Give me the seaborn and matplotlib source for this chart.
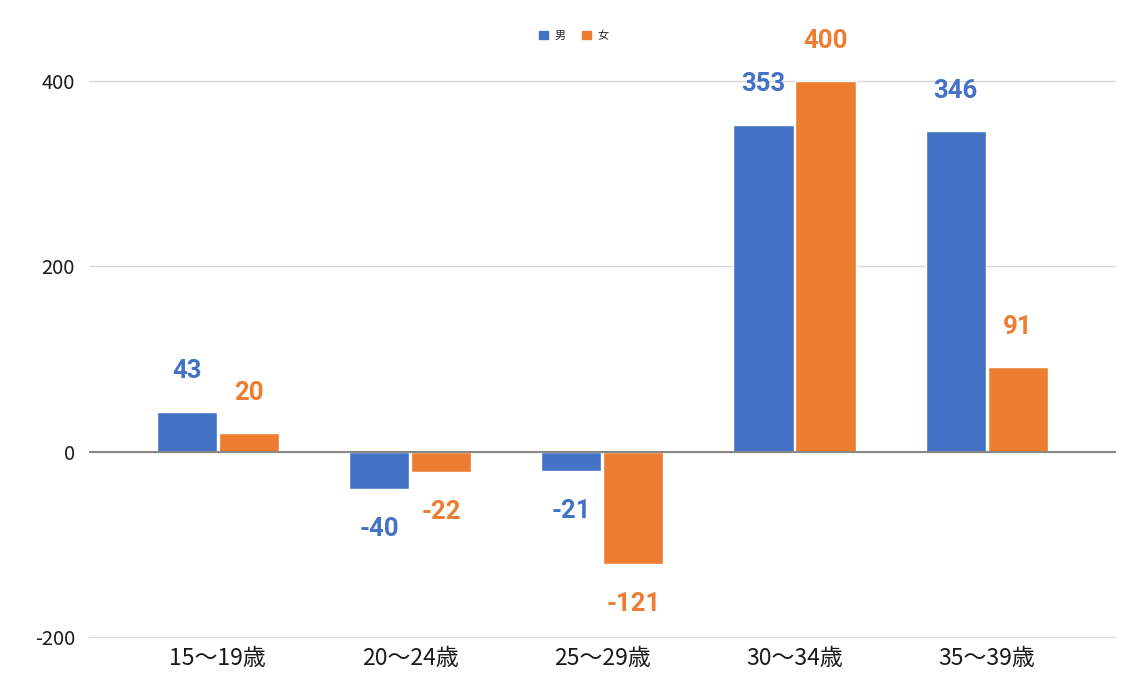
import pandas as pd
import seaborn as sns
import matplotlib.pyplot as plt

# データ
ages = ['15〜19歳', '20〜24歳', '25〜29歳', '30〜34歳', '35〜39歳']
male = [43, -40, -21, 353, 346]
female = [20, -22, -121, 400, 91]
sexes = ['男', '女']
colors = ['#4472C4', '#ED7D31']

df = pd.DataFrame({
    'age': ages * 2,
    'value': male + female,
    'sex': [sexes[0]] * len(ages) + [sexes[1]] * len(ages),
})

sns.set_style('white')
plt.rcParams['font.family'] = ['Noto Sans CJK JP', 'DejaVu Sans']
plt.rcParams['axes.unicode_minus'] = False

fig = plt.figure(figsize=(11.36, 6.91), dpi=100)
ax = fig.add_axes([0.0783, 0.076, 0.9037, 0.86])

sns.barplot(data=df, x='age', y='value', hue='sex', palette=colors,
            width=0.645, gap=0.03, ax=ax, legend=False, saturation=1)

ax.set_xlim(-0.67, 4.67)
ax.set_ylim(-202, 440)
ax.set_yticks([-200, 0, 200, 400])
ax.yaxis.grid(True, color='#d9d9d9', lw=1)
ax.set_axisbelow(True)
ax.axhline(0, color='#888888', lw=1.5, zorder=3)
for s in ax.spines.values():
    s.set_visible(False)
ax.set_xlabel('')
ax.set_ylabel('')
ax.tick_params(axis='both', length=0, colors='#1a1a1a', pad=10)
ax.tick_params(axis='x', labelsize=16.5, pad=6)
ax.tick_params(axis='y', labelsize=14.5)

# 数値ラベル
for cont, col in zip(ax.containers, colors):
    for bar in cont:
        h = bar.get_height()
        off = 29 if h >= 0 else -29
        ax.annotate(f'{int(round(h))}', (bar.get_x() + bar.get_width() / 2, h),
                    xytext=(0, off), textcoords='offset points',
                    ha='center', va='center', fontsize=18.5, fontweight='bold',
                    color=col, family=['Roboto', 'DejaVu Sans'], annotation_clip=False)

# 凡例
handles = [plt.Rectangle((0, 0), 1, 1, color=c) for c in colors]
fig.legend(handles, sexes, loc='center', bbox_to_anchor=(0.505, 0.948), ncol=2,
           frameon=False, fontsize=8, handlelength=0.8, handleheight=0.8,
           handletextpad=0.6, columnspacing=1.5)

fig.savefig('out.png', dpi=100)
